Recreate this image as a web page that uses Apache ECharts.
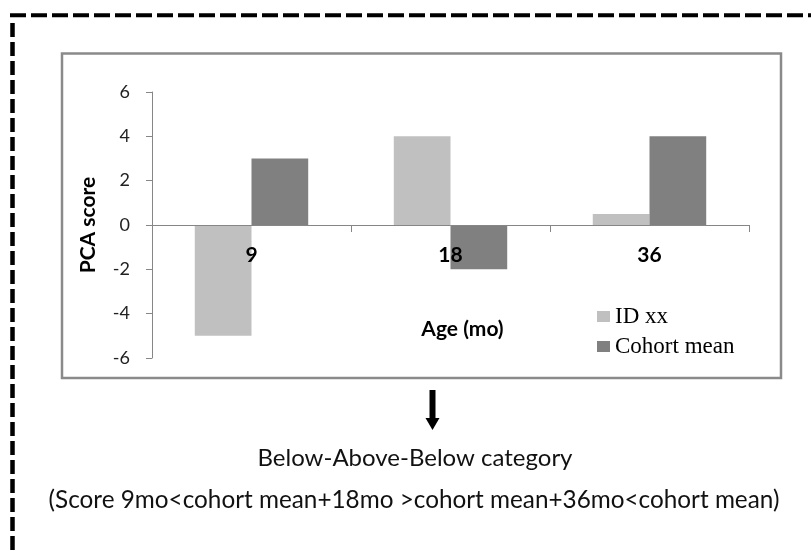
<!DOCTYPE html>
<html>
<head>
<meta charset="utf-8">
<script src="https://cdn.jsdelivr.net/npm/echarts@6/dist/echarts.min.js"></script>
<style>
html,body{margin:0;padding:0;background:#fff;}
#chart{width:811px;height:551px;}
</style>
</head>
<body>
<div id="chart"></div>
<script>
const categories = ['9', '18', '36'];
const idValues = [-5, 4, 0.5];
const cohortValues = [3, -2, 4];
const seriesNames = ['ID xx', 'Cohort mean'];
const yTicks = { min: -6, max: 6, interval: 2 };
const caption1 = 'Below-Above-Below category';
const caption2 = '(Score 9mo<cohort mean+18mo >cohort mean+36mo<cohort mean)';

const sans = 'Lato';
const chart = echarts.init(document.getElementById('chart'), null, { renderer: 'canvas' });

chart.setOption({
  animation: false,
  backgroundColor: '#ffffff',
  grid: { left: 152, right: 62, top: 92, bottom: 193, containLabel: false },
  legend: {
    orient: 'vertical',
    left: 592,
    top: 300,
    itemWidth: 13,
    itemHeight: 11,
    itemGap: 7,
    icon: 'rect',
    textStyle: { fontFamily: 'Liberation Serif', fontSize: 23, color: '#000' },
    data: seriesNames
  },
  xAxis: {
    type: 'category',
    data: categories,
    z: 5,
    name: 'Age (mo)',
    nameLocation: 'middle',
    nameGap: -39,
    nameTextStyle: { fontFamily: sans, fontWeight: 'bold', fontSize: 21, color: '#000', padding: [0, 0, 0, 24] },
    axisLine: { onZero: true, lineStyle: { color: '#868686', width: 1 } },
    axisTick: { show: true, length: 7, lineStyle: { color: '#868686' } },
    axisLabel: { margin: -113, fontFamily: sans, fontWeight: 'bold', fontSize: 21, color: '#000' },
    splitLine: { show: false }
  },
  yAxis: {
    type: 'value',
    min: yTicks.min,
    max: yTicks.max,
    interval: yTicks.interval,
    name: 'PCA score',
    nameLocation: 'middle',
    nameGap: 53,
    nameRotate: 90,
    nameTextStyle: { fontFamily: sans, fontWeight: 'bold', fontSize: 21, color: '#000' },
    axisLine: { show: true, lineStyle: { color: '#868686', width: 1 } },
    axisTick: { show: true, length: 6, lineStyle: { color: '#868686' } },
    axisLabel: { margin: 22, fontFamily: sans, fontSize: 18, color: '#222' },
    splitLine: { show: false }
  },
  series: [
    {
      name: seriesNames[0], type: 'bar', data: idValues,
      barGap: '0%', barCategoryGap: '43%',
      itemStyle: { color: '#c0c0c0' }
    },
    {
      name: seriesNames[1], type: 'bar', data: cohortValues,
      barGap: '0%', barCategoryGap: '43%',
      itemStyle: { color: '#808080' }
    }
  ],
  graphic: [
    { type: 'line', shape: { x1: 10, y1: 15.3, x2: 811, y2: 15.3 },
      style: { stroke: '#000', lineWidth: 4, lineDash: [16, 5] }, silent: true },
    { type: 'line', shape: { x1: 12.5, y1: 23, x2: 12.5, y2: 551 },
      style: { stroke: '#000', lineWidth: 4.5, lineDash: [14, 5] }, silent: true },
    { type: 'rect', shape: { x: 62, y: 53.5, width: 719, height: 324.5 },
      style: { fill: null, stroke: '#8a8a8a', lineWidth: 2.5 }, z: -1, silent: true },
    { type: 'rect', shape: { x: 429.5, y: 390, width: 6, height: 29 },
      style: { fill: '#000' }, silent: true },
    { type: 'polygon', shape: { points: [[425.5, 418], [439.5, 418], [432.5, 430]] },
      style: { fill: '#000' }, silent: true },
    { type: 'text', x: 415, y: 458,
      style: { text: caption1, fontFamily: sans, fontSize: 24, fill: '#111', align: 'center', verticalAlign: 'middle' } },
    { type: 'text', x: 414, y: 500,
      style: { text: caption2, fontFamily: sans, fontSize: 24.3, fill: '#111', align: 'center', verticalAlign: 'middle' } }
  ]
});
</script>
</body>
</html>
